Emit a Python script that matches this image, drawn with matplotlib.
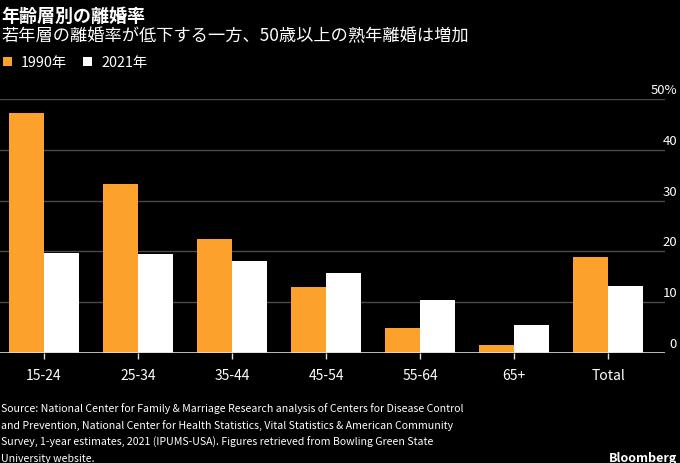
import numpy as np
import matplotlib
matplotlib.use('Agg')
import matplotlib.pyplot as plt
from matplotlib.patches import Rectangle

plt.rcParams['font.family'] = ['Noto Sans CJK JP', 'DejaVu Sans']

categories = ['15-24', '25-34', '35-44', '45-54', '55-64', '65+', 'Total']
rate_1990 = [47.2, 33.2, 22.5, 13.0, 5.0, 1.6, 18.9]
rate_2021 = [19.6, 19.4, 18.1, 15.7, 10.5, 5.5, 13.1]
y_ticks = [0, 10, 20, 30, 40, 50]
y_labels = ['0', '10', '20', '30', '40', '50%']

title = '年齢層別の離婚率'
subtitle = '若年層の離婚率が低下する一方、50歳以上の熟年離婚は増加'
source_lines = [
    'Source: National Center for Family & Marriage Research analysis of Centers for Disease Control',
    'and Prevention, National Center for Health Statistics, Vital Statistics & American Community',
    'Survey, 1-year estimates, 2021 (IPUMS-USA). Figures retrieved from Bowling Green State',
    'University website.',
]

orange = '#fca12b'
white = '#ffffff'
grid_c = '#4a4a4a'

W, H = 680, 464
fig = plt.figure(figsize=(W / 100, H / 100), dpi=100, facecolor='black')

# axes box: x 0..665 px, y 100..354 px
ax = fig.add_axes([0, 1 - 354 / H, 665 / W, (354 - 100) / H])
ax.set_facecolor('black')

x = np.arange(len(categories))
bw = 0.372
ax.bar(x - bw / 2, rate_1990, bw, color=orange, zorder=3)
ax.bar(x + bw / 2, rate_2021, bw, color=white, zorder=3)

ax.set_xlim(-44 / 94, 6.606)
ax.set_ylim(0, 50)

for t in y_ticks[1:]:
    ax.axhline(t, color=grid_c, lw=1, zorder=1)
ax.axhline(0, color='#dddddd', lw=1.2, zorder=4)

for t, lab in zip(y_ticks, y_labels):
    ax.annotate(lab, xy=(1, t), xycoords=('axes fraction', 'data'),
                xytext=(12, 3), textcoords='offset pixels',
                ha='right', va='bottom', color='white', fontsize=9.5)

for s in ax.spines.values():
    s.set_visible(False)
ax.set_yticks([])
ax.set_xticks(x)
ax.set_xticklabels(categories, color='white', fontsize=10)
ax.tick_params(axis='x', colors='#dddddd', length=4, width=1, pad=7, direction='out')
for lab in ax.get_xticklabels():
    lab.set_color('white')

# title block
fig.text(1 / W, 1 - 16 / H, title, color='white', fontsize=13, fontweight='bold', va='center', ha='left')
fig.text(1 / W, 1 - 36 / H, subtitle, color='white', fontsize=12.4, va='center', ha='left')

# legend
fig.patches.append(Rectangle((3 / W, 1 - 67 / H), 9 / W, 9 / H, transform=fig.transFigure,
                             facecolor=orange, edgecolor='none'))
fig.text(21 / W, 1 - 63 / H, '1990年', color='white', fontsize=10.3, va='center', ha='left')
fig.patches.append(Rectangle((83 / W, 1 - 67 / H), 9 / W, 9 / H, transform=fig.transFigure,
                             facecolor=white, edgecolor='none'))
fig.text(101 / W, 1 - 63 / H, '2021年', color='white', fontsize=10.3, va='center', ha='left')

# footer, one line at a time, 17 px apart
for i, line in enumerate(source_lines):
    fig.text(1 / W, 1 - (409 + 16.8 * i) / H, line, color='white', fontsize=7.6,
             va='center', ha='left')
fig.text(677 / W, 1 - 459 / H, 'Bloomberg', color='white', fontsize=9, fontweight='bold',
         va='center', ha='right')

fig.savefig('out.png', dpi=100, facecolor='black')
